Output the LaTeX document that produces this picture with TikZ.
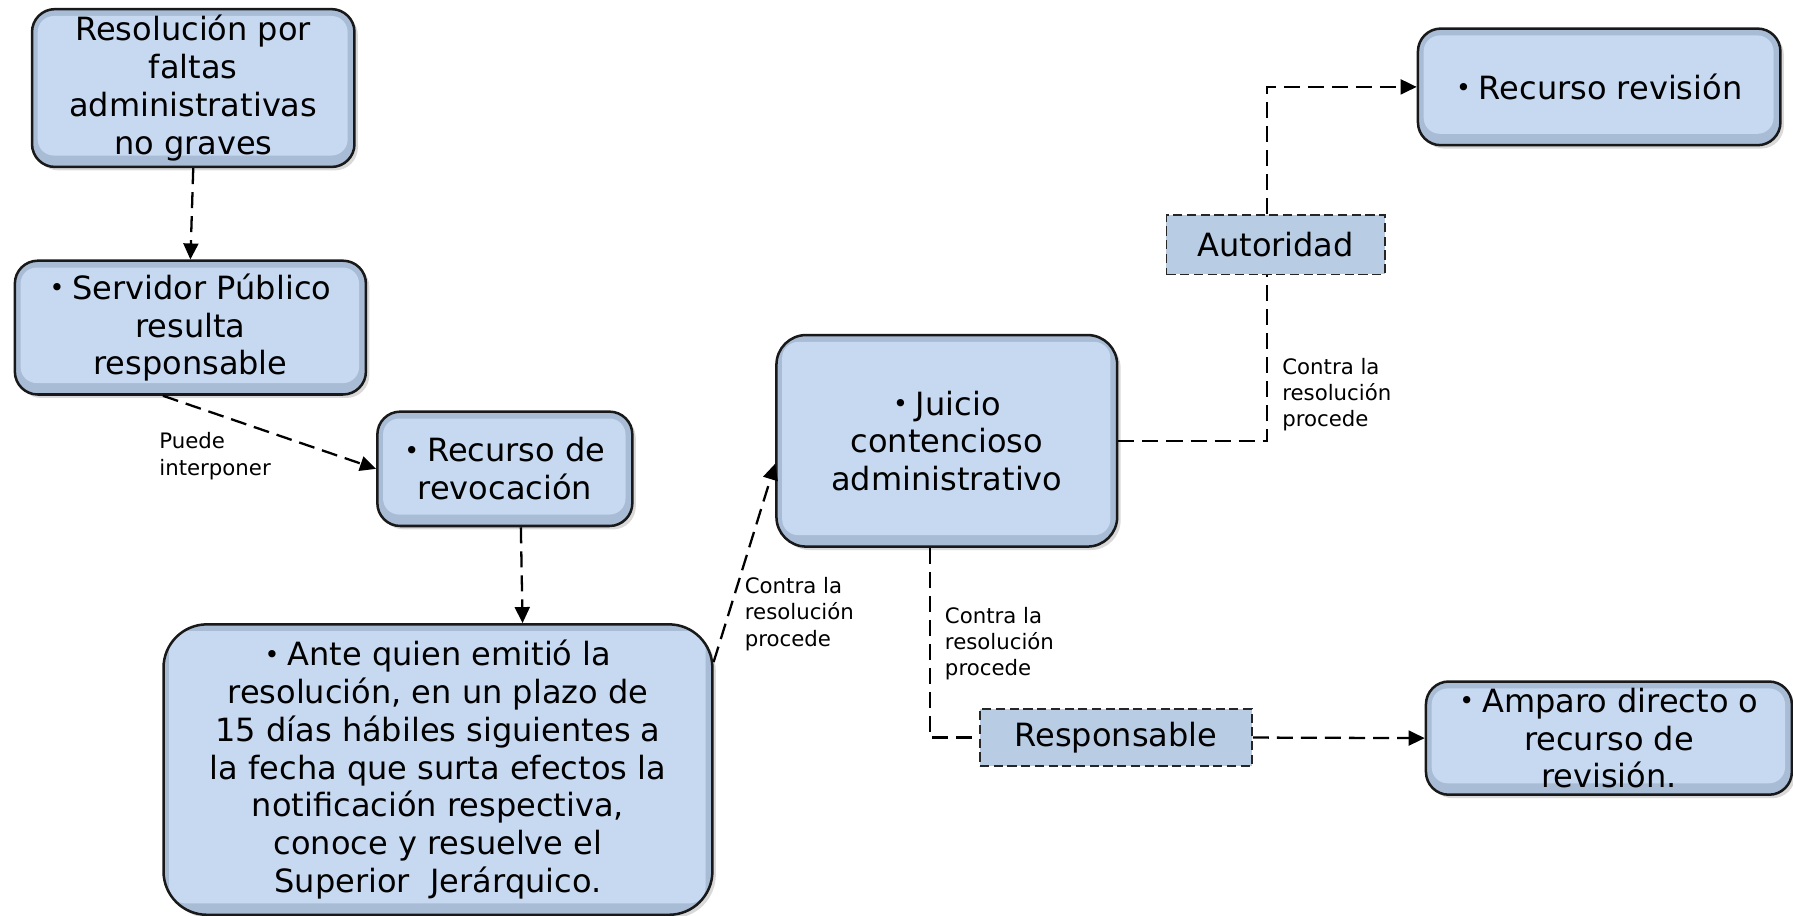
\documentclass[tikz,border=0pt]{standalone}
\usepackage{fontspec}
\setmainfont{DejaVu Sans}
\usetikzlibrary{arrows.meta,shadows,calc}
\definecolor{boxin}{HTML}{C6D9F1}
\definecolor{boxedge}{HTML}{A9BCD6}
\definecolor{labfill}{HTML}{B8CCE4}
\newcommand\bul{\raisebox{0.15ex}{\fontsize{11}{11}\selectfont•}\hspace{0.25em}}
\tikzset{
  bigbox/.style={draw=black!90, line width=1.1pt, rounded corners=10pt, fill=boxedge,
    align=center, font=\fontsize{14}{16.5}\selectfont, inner sep=0pt,
    drop shadow={opacity=0.3, shadow xshift=1.5pt, shadow yshift=-1.5pt},
    path picture={\fill[boxin, rounded corners=7pt]
      ($(path picture bounding box.north west)+(2.5pt,-3pt)$) rectangle
      ($(path picture bounding box.south east)+(-3pt,5pt)$);}},
  tagbox/.style={draw=black!85, line width=0.7pt, dash pattern=on 4pt off 2pt, fill=labfill,
    font=\fontsize{14}{16.5}\selectfont, inner sep=0pt},
  conn/.style={draw=black, line width=1pt, dash pattern=on 7pt off 3.5pt},
  arr/.style={conn, -{Triangle[length=7pt,width=6.5pt]}},
  lab/.style={font=\fontsize{9.3}{11.5}\selectfont, align=left, inner sep=0pt, anchor=west}
}
\begin{document}
\begin{tikzpicture}[x=0.5pt, y=-0.5pt]
\useasboundingbox (0,0) rectangle (1568,801);
\node[bigbox, minimum width=141pt, minimum height=69pt] (b1) at (169,77)
  {Resolución por\\faltas\\administrativas\\no graves};
\node[bigbox, minimum width=153.5pt, minimum height=58.5pt] (b2) at (166.5,286.5)
  {\bul Servidor Público\\resulta\\responsable};
\node[bigbox, minimum width=111.5pt, minimum height=50pt] (b3) at (441.5,410)
  {\bul Recurso de\\revocación};
\node[bigbox, rounded corners=19pt, minimum width=240pt, minimum height=127pt] (b4) at (383,673)
  {\bul Ante quien emitió la\\resolución, en un plazo de\\15 días hábiles siguientes a\\la fecha que surta efectos la\\notificación respectiva,\\conoce y resuelve el\\Superior\ \ Jerárquico.};
\node[bigbox, rounded corners=13pt, minimum width=149pt, minimum height=92.5pt] (b5) at (828,385.5)
  {\bul Juicio\\contencioso\\administrativo};
\node[bigbox, minimum width=158.5pt, minimum height=51pt] (b6) at (1398.5,76)
  {\bul Recurso revisión};
\node[bigbox, minimum width=160pt, minimum height=49.5pt] (b7) at (1407,645.5)
  {\bul Amparo directo o\\recurso de\\revisión.};
\node[tagbox, minimum width=95.5pt, minimum height=26pt] (aut) at (1115.5,214) {Autoridad};
\node[tagbox, minimum width=119pt, minimum height=25pt] (resp) at (976,645) {Responsable};

\draw[arr] (b1.south) -- (b2.north);
\draw[arr] ([xshift=-12pt]b2.south) -- (b3.west);
\draw[arr] ([xshift=7pt]b3.south) -- ([xshift=37pt]b4.north);
\draw[arr] ([yshift=-17pt]b4.north east) -- ([yshift=-10pt]b5.west);
\draw[conn] (b5.east) -| ([xshift=-3.75pt]aut.south);
\draw[arr] ([xshift=-3.75pt]aut.north) |- (b6.west);
\draw[conn] ([xshift=-7.5pt]b5.south) |- (resp.west);
\draw[arr] (resp.east) -- (b7.west);

\node[lab] (l1) at (139,399) {Puede\\interponer};
\node[lab] (l2) at (651,537) {Contra la\\resolución\\procede};
\node[lab] (l3) at (1121,345) {Contra la\\resolución\\procede};
\node[lab] (l4) at (826,563) {Contra la\\resolución\\procede};
\end{tikzpicture}
\end{document}
